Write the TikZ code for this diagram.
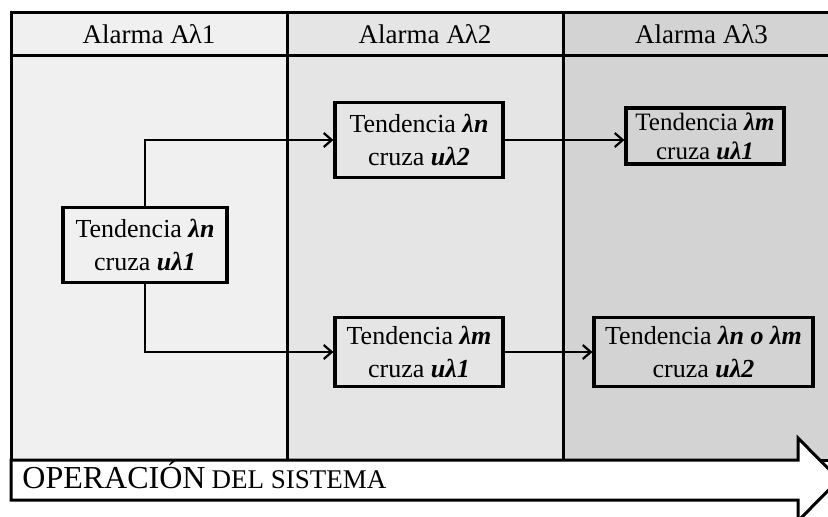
\documentclass[tikz,border=0pt]{standalone}
\usepackage{fontspec}
\setmainfont{Liberation Serif}
\usetikzlibrary{arrows.meta,positioning}

\definecolor{fondoA}{HTML}{F0F0F0}
\definecolor{fondoB}{HTML}{E5E5E5}
\definecolor{fondoC}{HTML}{D3D3D3}
\newcommand{\negrit}[1]{\textbf{\textit{#1}}}

\begin{document}
\begin{tikzpicture}[
    x=0.5pt, y=-0.5pt, % 像素坐标
    >={Straight Barb[length=4pt,width=7pt]},
    caja/.style={draw, line width=1.6pt, align=center, inner sep=0pt,
        font=\fontsize{13}{16.5}\selectfont},
    titulo/.style={font=\fontsize{13.5}{15}\selectfont},
    flecha/.style={->, line width=1.1pt}
]
\useasboundingbox (0,0) rectangle (828,516);

% ========== 三列背景与标题 ==========
\foreach \xa/\xb/\c/\t in {11/287/fondoA/1, 287/563/fondoB/2, 563/840/fondoC/3} {
    \draw[fill=\c, line width=1.5pt] (\xa,12) rectangle (\xb,460);
    \draw[line width=1.5pt] (\xa,55) -- (\xb,55);
    \node[titulo] (h\t) at ({(\xa+\xb)/2},34) {Alarma A\kern-0.5ptλ\t};
}

% ========== 底部箭头 ==========
\draw[fill=white, line width=1.5pt] (11,460) -- (798,460) -- (798,438) -- (839,479.5)
    -- (798,521) -- (798,500) -- (11,500) -- cycle;
\node[anchor=base west, inner sep=0pt] (oper) at (22,488)
    {\fontsize{16}{16}\selectfont OPERACIÓN\kern3pt\fontsize{13.5}{14}\selectfont DEL SISTEMA};

% ========== 方框 ==========
\node[caja, fill=fondoA, minimum width=82pt, minimum height=37.5pt] (t1) at (145,245)
    {Tendencia \negrit{λn}\\cruza \negrit{uλ1}};
\node[caja, fill=fondoB, minimum width=84pt, minimum height=37.5pt] (t2) at (419,140)
    {Tendencia \negrit{λn}\\cruza \negrit{uλ2}};
\node[caja, fill=fondoC, minimum width=79pt, minimum height=28pt,
    font=\fontsize{12.5}{14.5}\selectfont] (t3) at (705,136)
    {Tendencia \negrit{λm}\\cruza \negrit{uλ1}};
\node[caja, fill=fondoB, minimum width=84pt, minimum height=34.5pt] (t4) at (419,352)
    {Tendencia \negrit{λm}\\cruza \negrit{uλ1}};
\node[caja, fill=fondoC, minimum width=109.5pt, minimum height=34.5pt] (t5) at (703.5,352)
    {Tendencia \negrit{λn o λm}\\cruza \negrit{uλ2}};

% ========== 连线 ==========
\draw[flecha] (t1.north) |- (t2.west);
\draw[flecha] (t1.south) |- (t4.west);
\draw[flecha] (t2.east) -- (t2.east -| t3.west);
\draw[flecha] (t4.east) -- (t5.west);

\end{tikzpicture}
\end{document}
